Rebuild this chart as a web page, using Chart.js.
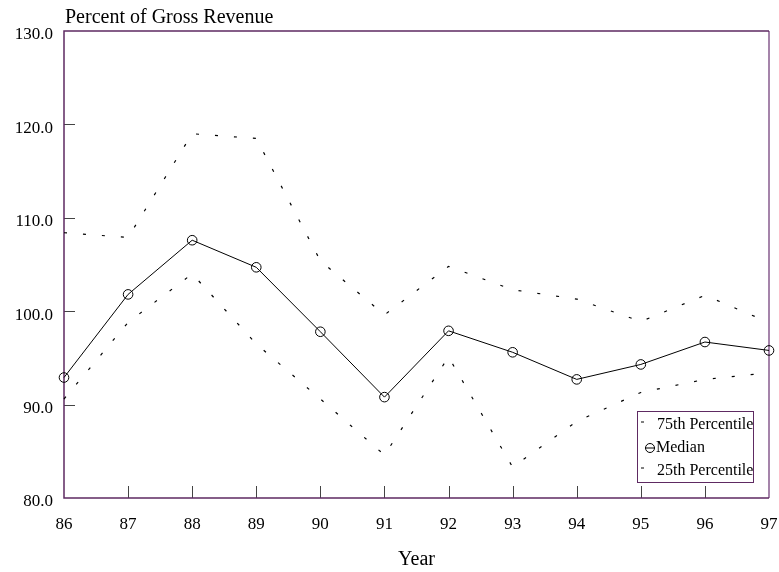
<!DOCTYPE html>
<html>
<head>
<meta charset="utf-8">
<script src="https://cdn.jsdelivr.net/npm/chart.js@4"></script>
<style>
  html, body { margin: 0; padding: 0; background: #fff; }
  canvas { display: block; }
</style>
</head>
<body>
<canvas id="revenue-chart" width="779" height="572"></canvas>
<script>
const years = ['86', '87', '88', '89', '90', '91', '92', '93', '94', '95', '96', '97'];
const pct75 = [108.4, 107.9, 119.0, 118.5, 105.4, 99.6, 104.8, 102.3, 101.3, 98.9, 101.7, 98.8];
const median = [92.9, 101.8, 107.6, 104.7, 97.8, 90.8, 97.9, 95.6, 92.7, 94.3, 96.7, 95.8];
const pct25 = [90.6, 98.8, 104.0, 96.5, 90.6, 84.6, 95.1, 83.3, 88.2, 91.3, 92.7, 93.4];
const yTicks = [80, 90, 100, 110, 120, 130];

const serif = 'Liberation Serif';
const frameColor = '#5e2a62';

// frame, inner tick marks, y title and the boxed legend
const decorations = {
  id: 'decorations',
  beforeDatasetsDraw(chart) {
    const { ctx, chartArea: a, scales } = chart;
    ctx.save();
    // inner ticks
    ctx.strokeStyle = '#444';
    ctx.lineWidth = 1;
    ctx.beginPath();
    for (let i = 1; i < years.length - 1; i++) {
      const x = Math.round(scales.x.getPixelForTick(i)) + 0.5;
      ctx.moveTo(x, a.bottom);
      ctx.lineTo(x, a.bottom - 12);
    }
    yTicks.slice(1, -1).forEach(v => {
      const y = Math.round(scales.y.getPixelForValue(v)) + 0.5;
      ctx.moveTo(a.left, y);
      ctx.lineTo(a.left + 11, y);
    });
    ctx.stroke();
    // right side, lighter
    ctx.strokeStyle = '#a584aa';
    ctx.lineWidth = 2;
    ctx.beginPath();
    ctx.moveTo(a.right, a.top);
    ctx.lineTo(a.right, a.bottom);
    ctx.stroke();
    // left, top, bottom
    ctx.strokeStyle = frameColor;
    ctx.lineWidth = 1.5;
    ctx.beginPath();
    ctx.moveTo(a.right, a.top);
    ctx.lineTo(a.left, a.top);
    ctx.lineTo(a.left, a.bottom);
    ctx.lineTo(a.right, a.bottom);
    ctx.stroke();
    ctx.restore();
  },
  afterDraw(chart) {
    const { ctx, chartArea: a } = chart;
    ctx.save();
    ctx.fillStyle = '#000';
    ctx.font = '20px "' + serif + '"';
    ctx.textBaseline = 'alphabetic';
    ctx.textAlign = 'left';
    ctx.fillText('Percent of Gross Revenue', a.left + 1, a.top - 8);

    // legend box
    const bx = a.right - 132, by = a.bottom - 87, bw = 116, bh = 71;
    ctx.fillStyle = '#fff';
    ctx.fillRect(bx, by, bw, bh);
    ctx.strokeStyle = frameColor;
    ctx.lineWidth = 1;
    ctx.strokeRect(bx + 0.5, by + 0.5, bw, bh);
    ctx.font = '16px "' + serif + '"';
    ctx.textBaseline = 'middle';
    chart.data.datasets.forEach((ds, i) => {
      const cy = by + 14 + i * 23;
      ctx.strokeStyle = '#000';
      ctx.lineWidth = 1;
      ctx.setLineDash([]);
      ctx.beginPath();
      if (ds.pointRadius > 0) {
        ctx.moveTo(bx + 8, cy);
        ctx.lineTo(bx + 18, cy);
        ctx.moveTo(bx + 17.5, cy);
        ctx.arc(bx + 13, cy, 4.5, 0, Math.PI * 2);
      } else {
        ctx.moveTo(bx + 4, cy - 3);
        ctx.lineTo(bx + 7, cy - 3);
      }
      ctx.stroke();
      ctx.fillStyle = '#000';
      ctx.fillText(ds.label, bx + (ds.pointRadius > 0 ? 19 : 20), cy);
    });
    ctx.restore();
  }
};

const dashed = {
  borderColor: '#000',
  borderWidth: 1.2,
  borderDash: [3, 16],
  pointRadius: 0,
  fill: false,
  tension: 0,
  clip: false
};

const chart = new Chart(document.getElementById('revenue-chart'), {
  type: 'line',
  data: {
    labels: years,
    datasets: [
      Object.assign({ label: '75th Percentile', data: pct75 }, dashed),
      {
        label: 'Median',
        data: median,
        borderColor: '#000',
        borderWidth: 1,
        pointRadius: 4.8,
        pointStyle: 'circle',
        pointBorderColor: '#000',
        pointBorderWidth: 1,
        pointBackgroundColor: 'rgba(0,0,0,0)',
        fill: false,
        tension: 0,
        clip: false
      },
      Object.assign({ label: '25th Percentile', data: pct25 }, dashed)
    ]
  },
  options: {
    responsive: false,
    animation: false,
    devicePixelRatio: 1,
    layout: { padding: { top: 31, right: 10, left: 0, bottom: 0 } },
    plugins: {
      legend: { display: false },
      tooltip: { enabled: false },
      title: { display: false }
    },
    scales: {
      x: {
        type: 'category',
        offset: false,
        grid: { display: false, drawTicks: false },
        border: { display: false },
        ticks: {
          color: '#000',
          font: { family: serif, size: 17 },
          padding: 16,
          maxRotation: 0,
          autoSkip: false
        },
        title: {
          display: true,
          text: 'Year',
          color: '#000',
          font: { family: serif, size: 20 },
          padding: { top: 15, bottom: 0 }
        },
        afterFit(scale) {
          scale.height = 74;
          scale.paddingLeft = 0;
          scale.paddingRight = 0;
        }
      },
      y: {
        min: 80,
        max: 130,
        grid: { display: false, drawTicks: false },
        border: { display: false },
        afterBuildTicks(scale) { scale.ticks = yTicks.map(v => ({ value: v })); },
        ticks: {
          color: '#000',
          font: { family: serif, size: 17 },
          padding: 11,
          labelOffset: 4,
          callback: v => Number(v).toFixed(1)
        },
        afterFit(scale) {
          scale.width = 64;
          scale.paddingTop = 0;
          scale.paddingBottom = 0;
        }
      }
    }
  },
  plugins: [decorations]
});
</script>
</body>
</html>
